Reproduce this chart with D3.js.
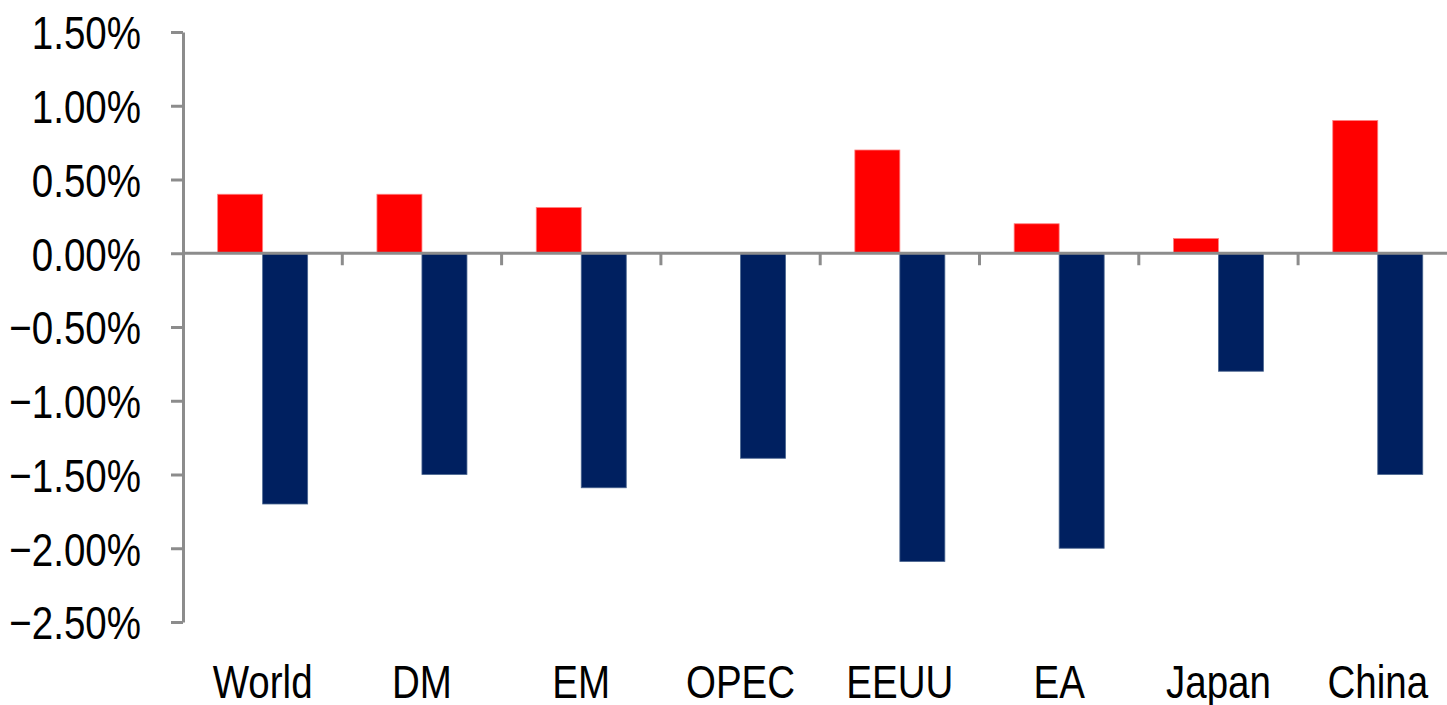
<!DOCTYPE html>
<html>
<head>
<meta charset="utf-8">
<script src="https://cdn.jsdelivr.net/npm/d3@7"></script>
<style>
  body { margin: 0; background: #fff; }
  svg text { font-family: "Liberation Sans Narrow", "Arial Narrow", "Liberation Sans", Arial, sans-serif; fill: #000; }
</style>
</head>
<body>
<svg id="chart"></svg>
<script>
// data
const categories = ["World", "DM", "EM", "OPEC", "EEUU", "EA", "Japan", "China"];
const seriesNames = ["Upside", "Downside"];
const upside = [0.40, 0.40, 0.31, 0.00, 0.70, 0.20, 0.10, 0.90];
const downside = [-1.70, -1.50, -1.59, -1.39, -2.09, -2.00, -0.80, -1.50];
const yTicks = [1.5, 1.0, 0.5, 0.0, -0.5, -1.0, -1.5, -2.0, -2.5];
const colors = ["#ff0000", "#002060"];

const width = 1447;
const height = 705;
const margin = { top: 32, left: 183, bottom: 83 };
const squeeze = 0.82; // no narrow font installed, so squeeze the regular one

const svg = d3.select("#chart")
    .attr("width", width)
    .attr("height", height);

// scales
const xScale = d3.scaleBand()
    .domain(categories)
    .range([margin.left, margin.left + 8 * 159.3])
    .paddingInner(0.435)
    .paddingOuter(0.2175);

const xSub = d3.scaleBand()
    .domain(seriesNames)
    .range([0, xScale.bandwidth()]);

const yScale = d3.scaleLinear()
    .domain([-2.5, 1.5])
    .range([height - margin.bottom, margin.top]);

const rows = categories.map((c, i) => ({ cat: c, values: [upside[i], downside[i]] }));

// bars
const group = svg.selectAll(".cat")
    .data(rows)
    .enter()
    .append("g")
    .attr("class", "cat")
    .attr("transform", d => "translate(" + xScale(d.cat) + ",0)");

group.selectAll("rect")
    .data(d => d.values.map((v, j) => ({ name: seriesNames[j], v: v, j: j })))
    .enter()
    .append("rect")
    .attr("x", d => xSub(d.name))
    .attr("y", d => yScale(Math.max(0, d.v)))
    .attr("width", xSub.bandwidth())
    .attr("height", d => Math.abs(yScale(d.v) - yScale(0)))
    .attr("fill", d => colors[d.j])
    .attr("stroke", d => d.j === 0 ? "#ff8080" : "#4a6690")
    .attr("stroke-width", 0.8);

// y axis
const yAxis = d3.axisLeft(yScale)
    .tickValues(yTicks)
    .tickSize(12)
    .tickSizeOuter(0)
    .tickPadding(30)
    .tickFormat(d => d3.format(".2f")(d) + "%");

const yg = svg.append("g")
    .attr("transform", "translate(" + margin.left + ",0)")
    .call(yAxis);

yg.select(".domain").attr("stroke", "#8c8c8c").attr("stroke-width", 3);
yg.selectAll(".tick line").attr("stroke", "#8c8c8c").attr("stroke-width", 3);
yg.selectAll(".tick text")
    .style("font-size", "47px")
    .attr("x", -42 / squeeze)
    .attr("transform", "scale(" + squeeze + ",1)")
    .attr("dy", "0.36em");

// zero line with category ticks
const step = xScale.step();
svg.append("line")
    .attr("x1", margin.left)
    .attr("x2", width)
    .attr("y1", yScale(0))
    .attr("y2", yScale(0))
    .attr("stroke", "#8c8c8c")
    .attr("stroke-width", 3);

svg.selectAll(".xtick")
    .data(categories.slice(1))
    .enter()
    .append("line")
    .attr("class", "xtick")
    .attr("x1", d => xScale(d) + xScale.bandwidth() / 2 - step / 2)
    .attr("x2", d => xScale(d) + xScale.bandwidth() / 2 - step / 2)
    .attr("y1", yScale(0))
    .attr("y2", yScale(0) + 12)
    .attr("stroke", "#8c8c8c")
    .attr("stroke-width", 3);

// category labels
svg.selectAll(".xlabel")
    .data(categories)
    .enter()
    .append("text")
    .attr("class", "xlabel")
    .attr("transform", d => "translate(" + (xScale(d) + xScale.bandwidth() / 2) + ",698) scale(" + squeeze + ",1)")
    .style("text-anchor", "middle")
    .style("font-size", "47px")
    .text(d => d);
</script>
</body>
</html>
